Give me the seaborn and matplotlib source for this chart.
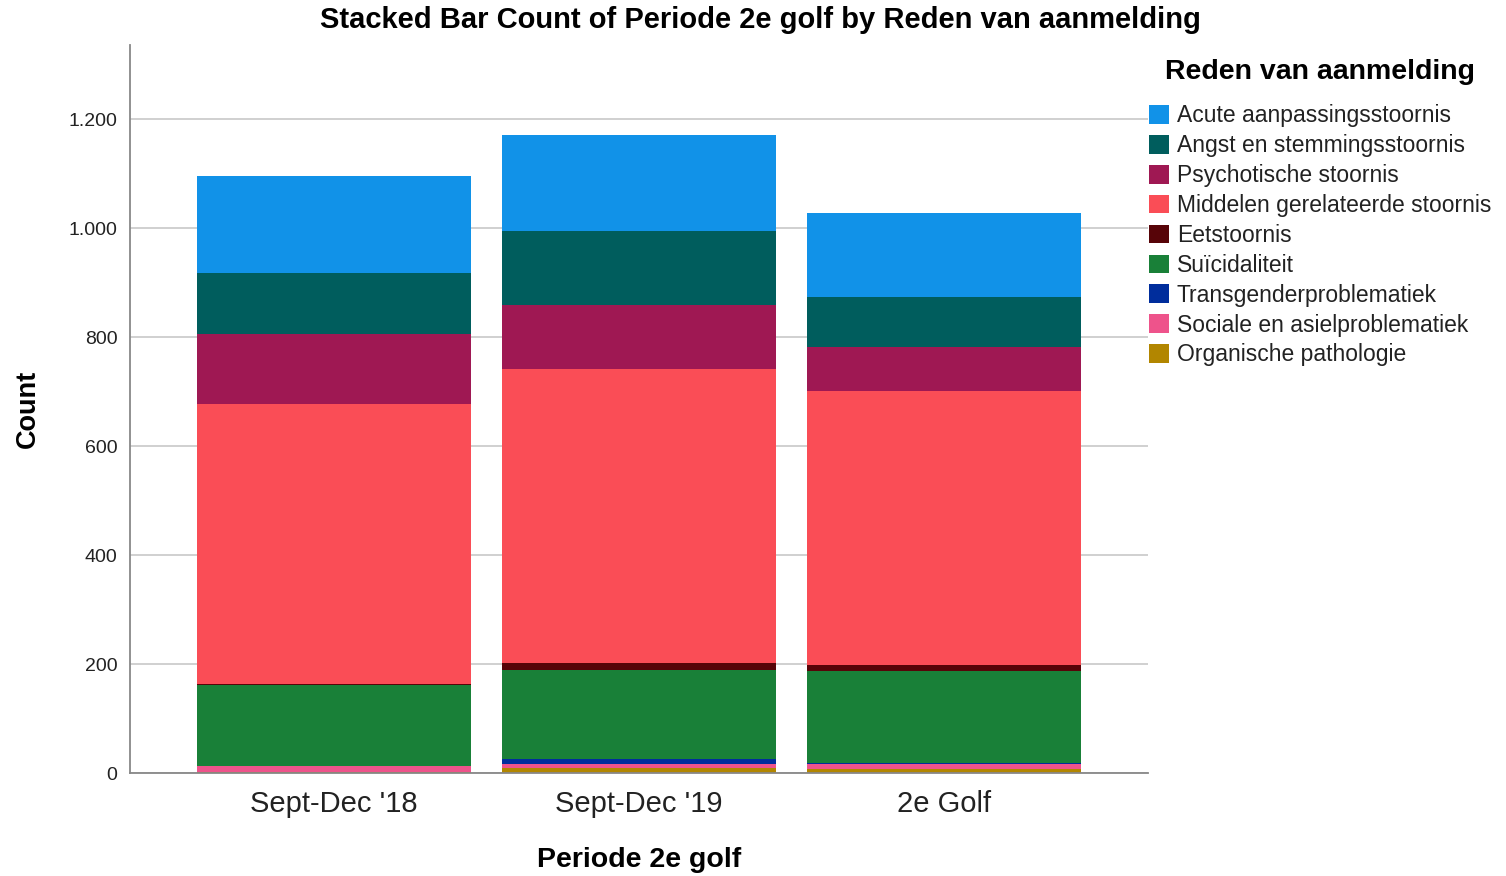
import matplotlib
matplotlib.use("Agg")
import matplotlib.pyplot as plt
from matplotlib.ticker import FuncFormatter, FixedLocator
import seaborn as sns
import pandas as pd

periods = ["Sept-Dec '18", "Sept-Dec '19", "2e Golf"]
reasons = [
    "Acute aanpassingsstoornis",
    "Angst en stemmingsstoornis",
    "Psychotische stoornis",
    "Middelen gerelateerde stoornis",
    "Eetstoornis",
    "Suïcidaliteit",
    "Transgenderproblematiek",
    "Sociale en asielproblematiek",
    "Organische pathologie",
]
acute = [178, 177, 155]
angst = [112, 135, 91]
psychotisch = [128, 118, 81]
middelen = [513, 539, 503]
eet = [3, 13, 11]
suicidaliteit = [148, 164, 169]
transgender = [1, 9, 1]
sociale = [10, 6, 9]
organisch = [2, 10, 8]

colors = ["#1192e8", "#005d5d", "#9f1853", "#fa4d56", "#570408",
          "#198038", "#002d9c", "#ee538b", "#b28600"]

series = [acute, angst, psychotisch, middelen, eet, suicidaliteit,
          transgender, sociale, organisch]
rows = []
for reason, vals in zip(reasons, series):
    for p, v in zip(periods, vals):
        rows.append({"Periode 2e golf": p, "Reden van aanmelding": reason, "Count": v})
df = pd.DataFrame(rows)
df["Periode 2e golf"] = pd.Categorical(df["Periode 2e golf"], categories=periods, ordered=True)
df["x"] = df["Periode 2e golf"].cat.codes

sns.set_style("white")
plt.rcParams["font.family"] = ["Liberation Sans", "DejaVu Sans"]

fig = plt.figure(figsize=(15.06, 8.76), dpi=100)
ax = fig.add_axes([130 / 1506, 1 - 773 / 876, (1148 - 130) / 1506, (773 - 45) / 876])

sns.histplot(data=df, x="x", hue="Reden van aanmelding", weights="Count",
             hue_order=reasons, palette=colors, multiple="stack",
             discrete=True, shrink=0.9, alpha=1, linewidth=0, ax=ax,
             zorder=2)

ax.set_xlim(-0.67, 2.67)
ax.set_ylim(0, 1336)
ax.xaxis.set_major_locator(FixedLocator([0, 1, 2]))
ax.set_xticklabels(periods, fontsize=21, color="#222222")
ax.yaxis.set_major_locator(FixedLocator([0, 200, 400, 600, 800, 1000, 1200]))
ax.yaxis.set_major_formatter(FuncFormatter(lambda v, p: f"{int(v):,}".replace(",", ".")))
ax.tick_params(axis="y", labelsize=14, length=0, pad=9, colors="#222222")
ax.tick_params(axis="x", length=0, pad=12)
ax.yaxis.grid(True, color="#c8c8c8", linewidth=1.2, zorder=0)
ax.set_axisbelow(True)
for s in ["top", "right"]:
    ax.spines[s].set_visible(False)
for s in ["left", "bottom"]:
    ax.spines[s].set_color("#888888")
    ax.spines[s].set_linewidth(1.3)

ax.set_ylabel("Count", fontsize=19.5, fontweight="bold", labelpad=20, color="black")
ax.set_xlabel("Periode 2e golf", fontsize=20.5, fontweight="bold", labelpad=21, color="black")
fig.suptitle("Stacked Bar Count of Periode 2e golf by Reden van aanmelding",
             x=760 / 1506, y=1 - 20 / 876, va="center", fontsize=21,
             fontweight="bold", color="black")

sns.move_legend(ax, loc="upper left", bbox_to_anchor=(1149 / 1506, 1 - 59 / 876),
                bbox_transform=fig.transFigure, frameon=False,
                title="Reden van aanmelding", fontsize=16.5,
                title_fontproperties={"weight": "bold", "size": 20.5},
                handlelength=0.87, handleheight=0.87, handletextpad=0.35,
                labelspacing=0.3, borderpad=0, borderaxespad=0)
leg = ax.get_legend()
leg._legend_box.sep = 14
leg.get_title().set_color("black")
for t in leg.get_texts():
    t.set_color("#222222")

fig.savefig("out.png", dpi=100)
